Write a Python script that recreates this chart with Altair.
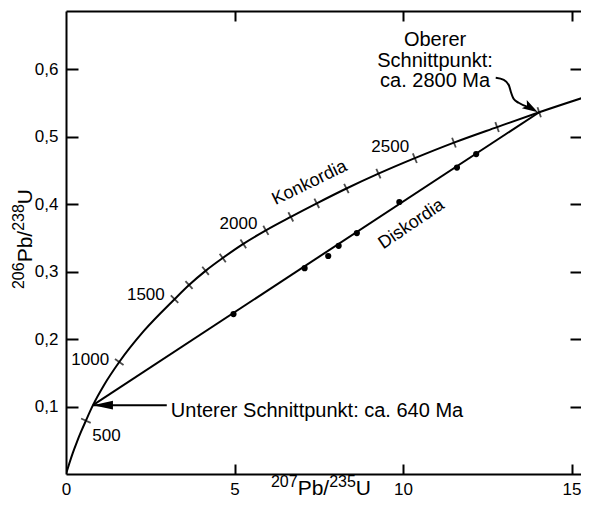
import numpy as np
import pandas as pd
import altair as alt

FONT = "Liberation Sans"

# Concordia curve
conc_x = [0.0, 0.10, 0.20, 0.32, 0.45, 0.59, 0.80, 1.13, 1.58, 2.31, 3.22, 3.65, 4.14, 4.65,
          5.26, 5.93, 6.67, 7.44, 8.32, 9.27, 10.35, 11.51, 12.79, 14.04, 15.43]
conc_y = [0.0, 0.016, 0.031, 0.047, 0.063, 0.079, 0.102, 0.132, 0.166, 0.212, 0.259, 0.280,
          0.301, 0.320, 0.341, 0.361, 0.381, 0.401, 0.423, 0.445, 0.468, 0.491, 0.514,
          0.536, 0.559]

# Age ticks on the concordia (Ma)
tick_age = [500, 1000, 1500, 1600, 1700, 1800, 1900, 2000, 2100, 2200, 2300, 2400, 2500,
            2600, 2700, 2800]
tick_x = [0.59, 1.58, 3.22, 3.65, 4.14, 4.65, 5.26, 5.93, 6.67, 7.44, 8.32, 9.27, 10.35,
          11.51, 12.79, 14.04]
tick_y = [0.079, 0.166, 0.259, 0.280, 0.301, 0.320, 0.341, 0.361, 0.381, 0.401, 0.423,
          0.445, 0.468, 0.491, 0.514, 0.536]

# Discordia
disc_x = [0.80, 14.04]
disc_y = [0.102, 0.536]
pts_x = [4.97, 7.08, 7.78, 8.09, 8.63, 9.89, 11.60, 12.17]
pts_y = [0.237, 0.305, 0.323, 0.338, 0.357, 0.403, 0.454, 0.474]

# Age labels
age_text = ["1000", "1500", "2000", "2500"]
age_text_x = [1.28, 2.93, 5.68, 10.18]
age_text_y = [0.161, 0.258, 0.363, 0.477]
low_age_text = ["500"]
low_age_x = [0.78]
low_age_y = [0.049]

# Curve names
konk_text, konk_x, konk_y = "Konkordia", 7.23, 0.431
disk_text, disk_x, disk_y = "Diskordia", 10.25, 0.370

# Annotations
lower_text, lower_x, lower_y = "Unterer Schnittpunkt: ca. 640 Ma", 3.11, 0.0844
lower_arrow_x = [0.80, 2.99]
lower_arrow_y = [0.102, 0.102]
upper_text, upper_x, upper_y = "Oberer\nSchnittpunkt:\nca. 2800 Ma", 10.95, 0.634
upper_arrow_x = [12.75, 12.99, 13.14, 13.20, 13.28, 13.43, 13.70]
upper_arrow_y = [0.587, 0.584, 0.576, 0.566, 0.556, 0.550, 0.544]
upper_tip_x, upper_tip_y = 14.00, 0.536

# Axis labels / titles
x_ticks = [0, 5, 10, 15]
y_ticks = [0.1, 0.2, 0.3, 0.4, 0.5, 0.6]
x_title_parts = ["207", "Pb/", "235", "U"]
y_title_parts = ["206", "Pb/", "238", "U"]
title_part_sup = [True, False, True, False]

W, H = 515, 463
X_DOM = [0, 15.28]
Y_DOM = [0, 0.686]
xs = alt.Scale(domain=X_DOM, nice=False, zero=False)
ys = alt.Scale(domain=Y_DOM, nice=False, zero=False)

# tick orientation perpendicular to the curve (pixel space)
sx = W / (X_DOM[1] - X_DOM[0])
sy = H / (Y_DOM[1] - Y_DOM[0])
slope = np.gradient(np.array(conc_y), np.array(conc_x))
tslope = np.interp(tick_x, conc_x, slope)
theta = np.degrees(np.arctan(tslope * sy / sx))
tick_angle = (360 - theta) % 360

conc_df = pd.DataFrame({"x": conc_x, "y": conc_y})
tick_df = pd.DataFrame({"x": tick_x, "y": tick_y, "age": tick_age, "ang": tick_angle})
disc_df = pd.DataFrame({"x": disc_x, "y": disc_y})
pts_df = pd.DataFrame({"x": pts_x, "y": pts_y})
age_df = pd.DataFrame({"x": age_text_x, "y": age_text_y, "t": age_text})
low_age_df = pd.DataFrame({"x": low_age_x, "y": low_age_y, "t": low_age_text})
konk_df = pd.DataFrame({"x": [konk_x], "y": [konk_y], "t": [konk_text]})
disk_df = pd.DataFrame({"x": [disk_x], "y": [disk_y], "t": [disk_text]})
lower_df = pd.DataFrame({"x": [lower_x], "y": [lower_y], "t": [lower_text]})
upper_df = pd.DataFrame({"x": [upper_x], "y": [upper_y], "t": [upper_text]})
larrow_df = pd.DataFrame({"x": lower_arrow_x, "y": lower_arrow_y})
larrow_tip_df = pd.DataFrame({"x": [lower_arrow_x[0]], "y": [lower_arrow_y[0]]})
uarrow_df = pd.DataFrame({"x": upper_arrow_x, "y": upper_arrow_y,
                          "o": list(range(len(upper_arrow_x)))})
uarrow_tip_df = pd.DataFrame({"x": [upper_tip_x], "y": [upper_tip_y]})

yfmt = "replace(format(datum.value, '.1f'), '.', ',')"

# Axes
ax_x_main = alt.Axis(orient="bottom", values=x_ticks, domain=True, domainColor="black",
                     domainWidth=2, ticks=False, tickSize=0, labels=True, labelFont=FONT,
                     labelFontSize=17, labelColor="black", labelPadding=7, labelFlush=False,
                     labelAngle=0, grid=False, title=None)
ax_y_main = alt.Axis(orient="left", values=y_ticks, domain=True, domainColor="black",
                     domainWidth=2, ticks=False, tickSize=0, labels=True, labelExpr=yfmt,
                     labelFont=FONT, labelFontSize=17, labelColor="black", labelPadding=8,
                     labelFlush=False, grid=False, title=None)
ax_x_bticks = alt.Axis(orient="bottom", offset=-10, values=[5, 10, 15], domain=False,
                       ticks=True, tickSize=10, tickWidth=2, tickColor="black",
                       labels=False, grid=False, title=None)
ax_y_lticks = alt.Axis(orient="left", offset=-12, values=y_ticks, domain=False, ticks=True,
                       tickSize=12, tickWidth=2, tickColor="black", labels=False,
                       grid=False, title=None)
ax_x_top = alt.Axis(orient="top", values=[5, 10, 15], domain=True, domainColor="black",
                    domainWidth=2, ticks=False, tickSize=0, labels=False, grid=False,
                    title=None)
ax_y_rticks = alt.Axis(orient="right", offset=-11, values=y_ticks, domain=False, ticks=True,
                       tickSize=11, tickWidth=2, tickColor="black", labels=False,
                       grid=False, title=None)
ax_x_tticks = alt.Axis(orient="top", offset=-10, values=[5, 10, 15], domain=False,
                       ticks=True, tickSize=10, tickWidth=2, tickColor="black",
                       labels=False, grid=False, title=None)


def X(axis=None):
    return alt.X("x:Q", scale=xs, axis=axis)


def Y(axis=None):
    return alt.Y("y:Q", scale=ys, axis=axis)


conc = alt.Chart(conc_df).mark_line(color="black", strokeWidth=2, interpolate="monotone",
                                    clip=True).encode(
    x=X(ax_x_main), y=Y(ax_y_main))
disc = alt.Chart(disc_df).mark_line(color="black", strokeWidth=2).encode(
    x=X(ax_x_bticks), y=Y(ax_y_lticks))
pts = alt.Chart(pts_df).mark_circle(color="black", size=38, opacity=1).encode(
    x=X(ax_x_top), y=Y(ax_y_rticks))
ticks = alt.Chart(tick_df).mark_point(shape="M0,-1L0,1", size=110, stroke="black",
                                      strokeWidth=1.8, filled=False).encode(
    x=X(ax_x_tticks), y=Y(None), angle=alt.Angle("ang:Q", scale=None))

txt_age = alt.Chart(age_df).mark_text(font=FONT, fontSize=17, align="right",
                                      baseline="alphabetic", color="black").encode(
    x=X(), y=Y(), text="t:N")
txt_low = alt.Chart(low_age_df).mark_text(font=FONT, fontSize=17, align="left",
                                          baseline="alphabetic", color="black").encode(
    x=X(), y=Y(), text="t:N")
txt_konk = alt.Chart(konk_df).mark_text(font=FONT, fontSize=18, align="center",
                                        baseline="middle", angle=334, color="black").encode(
    x=X(), y=Y(), text="t:N")
txt_disk = alt.Chart(disk_df).mark_text(font=FONT, fontSize=18, align="center",
                                        baseline="middle", angle=326, color="black").encode(
    x=X(), y=Y(), text="t:N")
txt_lower = alt.Chart(lower_df).mark_text(font=FONT, fontSize=20, align="left",
                                          baseline="alphabetic", color="black").encode(
    x=X(), y=Y(), text="t:N")
txt_upper = alt.Chart(upper_df).mark_text(font=FONT, fontSize=20, align="center",
                                          baseline="alphabetic", color="black",
                                          lineBreak="\n", lineHeight=20.5).encode(
    x=X(), y=Y(), text="t:N")

larrow = alt.Chart(larrow_df).mark_line(color="black", strokeWidth=2).encode(x=X(), y=Y())
larrow_tip = alt.Chart(larrow_tip_df).mark_point(
    shape="M0,0L1,-0.22L1,0.22Z", size=1600, filled=True, color="black", opacity=1,
    strokeWidth=0).encode(x=X(), y=Y())
uarrow = alt.Chart(uarrow_df).mark_line(color="black", strokeWidth=2,
                                        interpolate="monotone").encode(
    x=X(), y=Y(), order="o:Q")
uarrow_tip = alt.Chart(uarrow_tip_df).mark_point(
    shape="M0,0L1,-0.3L0.8,0L1,0.3Z", size=1000, filled=True, color="black", opacity=1,
    strokeWidth=0, angle=211).encode(x=X(), y=Y())

# Axis titles with real superscripts, built from text pieces (pixel layout)
SUP, MAIN = 16, 21
CW = 0.556  # digit advance (em)
widths = []
for part, sup in zip(x_title_parts, title_part_sup):
    if sup:
        widths.append(len(part) * CW * SUP)
    else:
        widths.append((1.501 if part == "Pb/" else 0.722) * MAIN)
total_w = sum(widths)

title_layers = []
# x title: centred at plot x 255, baseline at plot y 484
xpos = 255 - total_w / 2
for part, sup, w in zip(x_title_parts, title_part_sup, widths):
    title_layers.append(
        alt.Chart(pd.DataFrame({"t": [part]})).mark_text(
            font=FONT, fontSize=SUP if sup else MAIN, align="left", baseline="alphabetic",
            color="black").encode(x=alt.value(xpos), y=alt.value(484 - (8 if sup else 0)),
                                  text="t:N"))
    xpos += w
# y title: rotated, centred at plot y 228, baseline at plot x -34
ypos = 228 + total_w / 2
for part, sup, w in zip(y_title_parts, title_part_sup, widths):
    title_layers.append(
        alt.Chart(pd.DataFrame({"t": [part]})).mark_text(
            font=FONT, fontSize=SUP if sup else MAIN, align="left", baseline="alphabetic",
            angle=270, color="black").encode(x=alt.value(-34 - (8 if sup else 0)),
                                             y=alt.value(ypos), text="t:N"))
    ypos -= w

chart = alt.layer(
    conc, disc, pts, ticks, txt_age, txt_low, txt_konk, txt_disk, txt_lower, txt_upper,
    larrow, larrow_tip, uarrow, uarrow_tip, *title_layers
).resolve_axis(x="independent", y="independent").properties(
    width=W, height=H,
    autosize=alt.AutoSizeParams(type="none"),
    padding={"left": 58, "top": 3, "right": 0, "bottom": 28},
    background="white",
).configure_view(strokeWidth=0)

chart.save("out.html", embed_options={"renderer": "svg", "actions": False})
